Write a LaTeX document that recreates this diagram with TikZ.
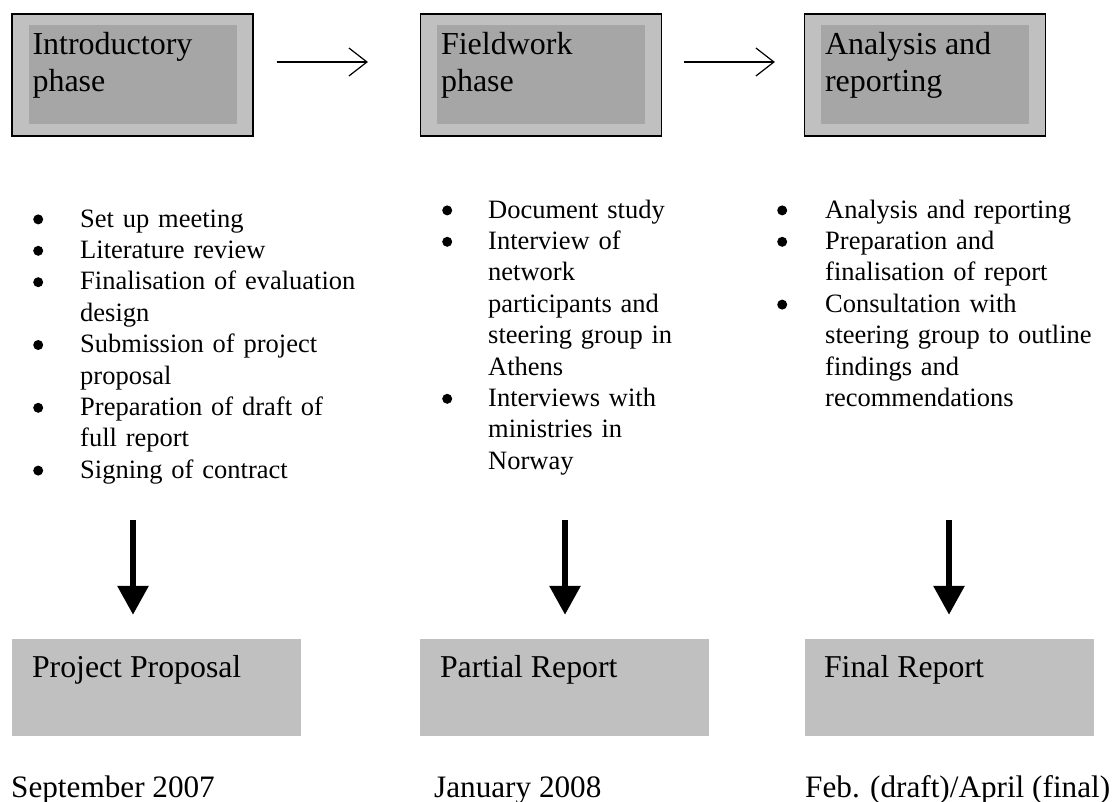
\documentclass[tikz,border=0pt]{standalone}
\usepackage{fontspec}
\setmainfont{Liberation Serif}
\usepackage{enumitem}
\usetikzlibrary{arrows.meta}
\definecolor{lightgrey}{RGB}{192,192,192}
\definecolor{midgrey}{RGB}{166,166,166}
\newcommand{\dotmark}{\tikz[baseline=-7.8pt]\fill (5pt,0pt) circle (5pt);}
\setlist[itemize]{label=\dotmark, leftmargin=47pt, labelindent=0pt, labelwidth=47pt, labelsep=0pt, align=left, nosep}

\begin{document}
\begin{tikzpicture}[x=1pt, y=-1pt, node distance=400pt]
\tikzstyle{phase} = [rectangle, draw, line width=1.2pt, fill=lightgrey, minimum width=241pt,
                     minimum height=122pt, inner sep=0pt]
\tikzstyle{phasein} = [rectangle, fill=midgrey, minimum width=208pt, minimum height=99pt, inner sep=0pt]
\tikzstyle{phasetext} = [anchor=north west, inner sep=0pt, align=left, font=\fontsize{32}{37.4}\selectfont]
\tikzstyle{steps} = [anchor=north west, inner sep=0pt, align=left, font=\fontsize{26.5}{31.4}\selectfont]
\tikzstyle{report} = [rectangle, fill=lightgrey, minimum width=289pt, minimum height=97pt, inner sep=0pt]
\tikzstyle{reporttext} = [anchor=base west, inner sep=0pt, font=\fontsize{31.8}{36}\selectfont]
\tikzstyle{plain} = [anchor=base west, inner sep=0pt, font=\fontsize{31.2}{36}\selectfont]
\tikzstyle{line} = [draw, line width=1.2pt, -{Straight Barb[length=18pt, width=28pt]}]
\tikzstyle{bigline} = [draw, line width=6pt, -{Triangle[length=29pt, width=30pt]}]

\useasboundingbox (0,0) rectangle (1116,802);

% phases
\node [phase] (intro) at (132.5,75) {};
\node [phase, right of=intro, node distance=408.5pt] (field) {};
\node [phase, right of=field, node distance=384pt] (analysis) {};
\node [phasein] (introin) at (intro) {};
\node [phasein] (fieldin) at (field) {};
\node [phasein] (analysisin) at (analysis) {};
\node [phasetext] (introlabel) at ([shift={(4,6.4)}]introin.north west) {Introductory\\phase};
\node [phasetext] (fieldlabel) at ([shift={(4,6.4)}]fieldin.north west) {Fieldwork\\phase};
\node [phasetext] (analysislabel) at ([shift={(4,6.4)}]analysisin.north west) {Analysis and\\reporting};

\path [line, shorten <=23pt, shorten >=52pt] ([yshift=13pt]intro.east) -- ([yshift=13pt]field.west);
\path [line, shorten <=22pt, shorten >=29pt] ([yshift=13pt]field.east) -- ([yshift=13pt]analysis.west);

% tasks
\node [steps, text width=340pt] (introsteps) at (33,195.6) {%
  \begin{itemize}
  \item Set up meeting
  \item Literature review
  \item Finalisation of evaluation\newline design
  \item Submission of project\newline proposal
  \item Preparation of draft of\newline full report
  \item Signing of contract
  \end{itemize}};
\node [steps, text width=320pt] (fieldsteps) at (442,186.6) {%
  \begin{itemize}[leftmargin=46pt, labelwidth=46pt]
  \item Document study
  \item Interview of\newline network\newline participants and\newline steering group in\newline Athens
  \item Interviews with\newline ministries in\newline Norway
  \end{itemize}};
\node [steps, text width=330pt] (analysissteps) at (777,186.6) {%
  \begin{itemize}[leftmargin=48pt, labelwidth=48pt]
  \item Analysis and reporting
  \item Preparation and\newline finalisation of report
  \item Consultation with\newline steering group to outline\newline findings and\newline recommendations
  \end{itemize}};

% deliverables
\node [report] (proposal) at (156.5,687.5) {};
\node [report] (partial) at (564.5,687.5) {};
\node [report] (final) at (949.5,687.5) {};
\node [reporttext] (proposaltext) at ([shift={(20,39)}]proposal.north west) {Project Proposal};
\node [reporttext] (partialtext) at ([shift={(20,39)}]partial.north west) {Partial Report};
\node [reporttext] (finaltext) at ([shift={(19,39)}]final.north west) {Final Report};

\coordinate (introend) at (133,520);
\coordinate (fieldend) at (565,520);
\coordinate (analysisend) at (949,520);
\path [bigline, shorten >=24pt] (introend) -- (introend |- proposal.north);
\path [bigline, shorten >=24pt] (fieldend) -- (fieldend |- partial.north);
\path [bigline, shorten >=24pt] (analysisend) -- (analysisend |- final.north);

% dates
\node [plain] (sept) at (11,797.5) {September 2007};
\node [plain] (jan) at (434,797.5) {January 2008};
\node [plain] (feb) at (805,797.5) {Feb. (draft)/April (final)};
\end{tikzpicture}
\end{document}
